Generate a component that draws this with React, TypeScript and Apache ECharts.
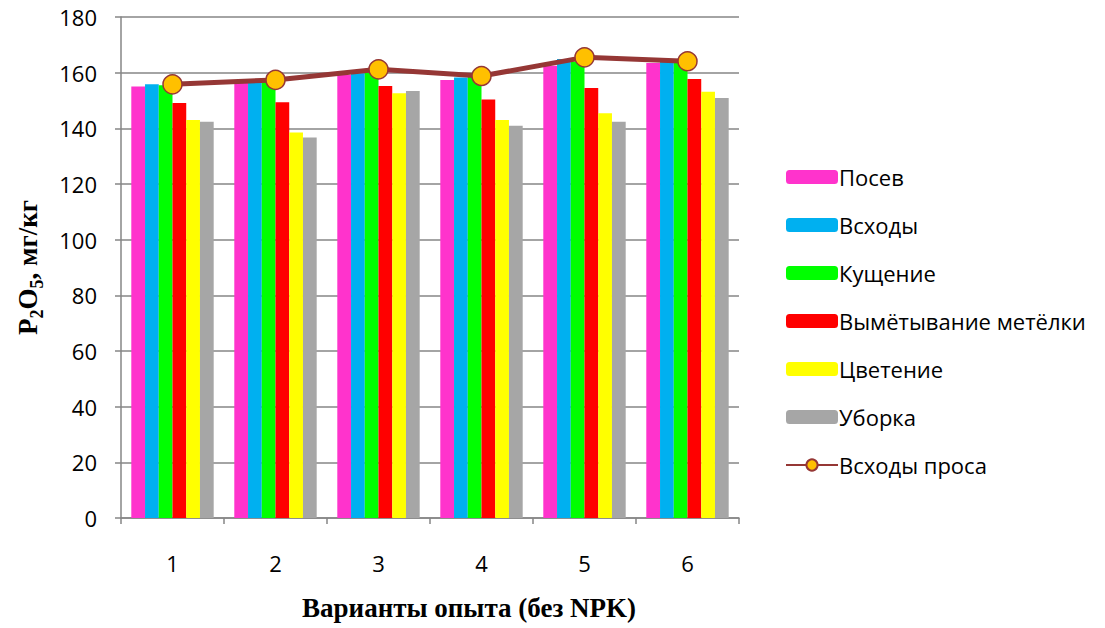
import React, { useEffect, useRef } from "react";
import * as echarts from "echarts";

const categories = ["1", "2", "3", "4", "5", "6"];
const posev = [155, 156.5, 159.2, 157.4, 162.5, 163.5];
const vskhody = [155.8, 157, 159.8, 158.3, 164.9, 164];
const kushchenie = [155.5, 157, 160.5, 158.5, 164, 164];
const vymetyvanie = [149.1, 149.4, 155.2, 150.4, 154.5, 157.7];
const tsvetenie = [143, 138.5, 152.6, 143, 145.4, 153.1];
const uborka = [142.4, 136.7, 153.4, 140.9, 142.4, 150.9];
const vskhodyProsa = [155.8, 157.4, 161.2, 158.8, 165.5, 164.1];
const yTicks = { min: 0, max: 180, interval: 20 };

const barNames = ["Посев", "Всходы", "Кущение", "Вымётывание метёлки", "Цветение", "Уборка"];
const barData = [posev, vskhody, kushchenie, vymetyvanie, tsvetenie, uborka];
const barColors = ["#FF33CC", "#00B0F0", "#00FF00", "#FF0000", "#FFFF00", "#A6A6A6"];

export default function App() {
  const ref = useRef<HTMLDivElement>(null);
  useEffect(() => {
    if (!ref.current) return;
    const chart = echarts.init(ref.current, undefined, { renderer: "svg" });
    const font = "'Open Sans', sans-serif";
    const serif = "'Liberation Serif', 'Times New Roman', serif";
    const series: any[] = barData.map((d, i) => ({
      name: barNames[i],
      type: "bar",
      data: d,
      barGap: "0%",
      barCategoryGap: "20%",
      itemStyle: { color: barColors[i] },
    }));
    series.push({
      name: "Всходы проса",
      type: "line",
      data: vskhodyProsa,
      symbol: "circle",
      symbolSize: 19,
      lineStyle: { color: "#953735", width: 5 },
      itemStyle: { color: "#FFC000", borderColor: "#953735", borderWidth: 1.5 },
      z: 5,
    });
    chart.setOption({
      animation: false,
      backgroundColor: "#fff",
      grid: { left: 121, right: 366, top: 17, bottom: 110 },
      legend: {
        orient: "vertical",
        left: 780,
        top: 161,
        itemWidth: 52,
        itemHeight: 14,
        itemGap: 26,
        textStyle: { fontFamily: font, fontSize: 22, color: "#000", padding: [0, 0, 0, -4] },
        data: [...barNames, "Всходы проса"],
      },
      xAxis: {
        type: "category",
        data: categories,
        axisLine: { lineStyle: { color: "#868686", width: 1.5 } },
        axisTick: { show: true, length: 6, lineStyle: { color: "#868686", width: 1.5 } },
        axisLabel: { fontFamily: font, fontSize: 22, color: "#000", margin: 34 },
        name: "Варианты опыта (без NPK)",
        nameLocation: "middle",
        nameGap: 76,
        nameTextStyle: { fontFamily: serif, fontWeight: "bold", fontSize: 27, color: "#000", padding: [0, 0, 0, 78] },
      },
      yAxis: {
        type: "value",
        min: yTicks.min,
        max: yTicks.max,
        interval: yTicks.interval,
        axisLine: { show: true, lineStyle: { color: "#868686", width: 1.5 } },
        axisTick: { show: true, length: 6, lineStyle: { color: "#868686", width: 1.5 } },
        splitLine: { lineStyle: { color: "#868686", width: 1.5 } },
        axisLabel: { fontFamily: font, fontSize: 22, color: "#000", margin: 24 },
        name: "{b|P}{s|2}{b|O}{s|5}{b|, мг/кг}",
        nameLocation: "middle",
        nameRotate: 90,
        nameGap: 80,
        nameTextStyle: {
          rich: {
            b: { fontFamily: serif, fontWeight: "bold", fontSize: 27, color: "#000", verticalAlign: "bottom" },
            s: { fontFamily: serif, fontWeight: "bold", fontSize: 18, color: "#000", verticalAlign: "bottom", padding: [0, 0, -5, 0] },
          },
        },
      },
      series,
    });
    return () => chart.dispose();
  }, []);
  return <div ref={ref} style={{ position: "fixed", left: 0, top: 0, width: 1105, height: 628 }} />;
}
